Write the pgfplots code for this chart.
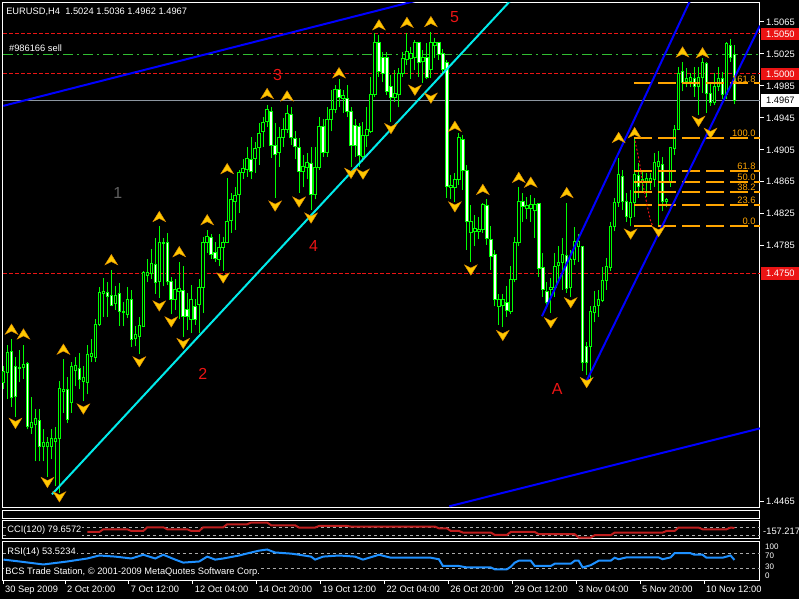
\documentclass[border=0pt]{standalone}
\usepackage{fontspec}
\setmainfont{Liberation Sans}
\usepackage{pgfplots}
\usepackage{pgfplotstable}
\pgfplotsset{compat=1.18}
\definecolor{mtlime}{RGB}{0,255,0}
\definecolor{frac}{RGB}{255,200,0}
\definecolor{fracd}{RGB}{225,140,0}
\definecolor{mtblue}{RGB}{0,0,255}
\definecolor{mtcyan}{RGB}{0,235,235}
\definecolor{mtred}{RGB}{235,20,20}
\definecolor{tradegreen}{RGB}{50,190,50}
\definecolor{bidgray}{RGB}{140,150,160}
\definecolor{fibc}{RGB}{255,165,0}
\definecolor{ccic}{RGB}{190,30,30}
\definecolor{rsic}{RGB}{30,144,255}
\definecolor{lvl}{RGB}{170,170,170}
\newcommand\sm{\fontsize{7}{8.4}\selectfont}
\newcommand\xs{\fontsize{6}{7}\selectfont}
\pgfdeclareplotmark{fup}{%
 \pgfpathmoveto{\pgfqpoint{0pt}{4.2pt}}%
 \pgfpathlineto{\pgfqpoint{-4.8pt}{-3.6pt}}%
 \pgfpathlineto{\pgfqpoint{0pt}{-1.2pt}}%
 \pgfpathlineto{\pgfqpoint{4.8pt}{-3.6pt}}%
 \pgfpathclose\pgfusepathqfillstroke}
\pgfdeclareplotmark{fdn}{%
 \pgfpathmoveto{\pgfqpoint{0pt}{-4.2pt}}%
 \pgfpathlineto{\pgfqpoint{-4.8pt}{3.6pt}}%
 \pgfpathlineto{\pgfqpoint{0pt}{1.2pt}}%
 \pgfpathlineto{\pgfqpoint{4.8pt}{3.6pt}}%
 \pgfpathclose\pgfusepathqfillstroke}
\pgfplotsset{mt/.style={scale only axis, width=568.5pt, anchor=south west,
  axis background/.style={fill=black}, axis line style={white,line width=0.75pt},
  xmin=-0.125, xmax=189.375, clip mode=individual},
  fibline/.style={fibc,line width=1.5pt,dash pattern=on 13.5pt off 4.5pt}}
\pgfplotstableread{
i o h l c
0 1.4614 1.4634 1.4605 1.4628
1 1.4626 1.4661 1.4593 1.4651
2 1.4653 1.4668 1.4583 1.4595
3 1.4634 1.4646 1.4571 1.4596
4 1.4631 1.4655 1.4614 1.4633
5 1.4633 1.4661 1.4618 1.4636
6 1.4638 1.4639 1.4555 1.4559
7 1.4558 1.4596 1.4549 1.4564
8 1.4561 1.4580 1.4515 1.4569
9 1.4566 1.4581 1.4515 1.4533
10 1.4533 1.4555 1.4515 1.4539
11 1.4534 1.4545 1.4496 1.4538
12 1.4534 1.4555 1.4518 1.4543
13 1.4540 1.4558 1.4484 1.4543
14 1.4544 1.4615 1.4476 1.4606
15 1.4603 1.4643 1.4576 1.4605
16 1.4605 1.4621 1.4563 1.4568
17 1.4589 1.4639 1.4576 1.4634
18 1.4629 1.4646 1.4609 1.4635
19 1.4631 1.4651 1.4605 1.4618
20 1.4615 1.4634 1.4590 1.4620
21 1.4614 1.4661 1.4599 1.4649
22 1.4646 1.4668 1.4639 1.4650
23 1.4645 1.4693 1.4640 1.4686
24 1.4686 1.4733 1.4684 1.4726
25 1.4725 1.4745 1.4696 1.4728
26 1.4726 1.4739 1.4696 1.4721
27 1.4723 1.4755 1.4709 1.4710
28 1.4713 1.4734 1.4705 1.4723
29 1.4725 1.4738 1.4685 1.4703
30 1.4701 1.4714 1.4684 1.4703
31 1.4699 1.4733 1.4695 1.4718
32 1.4718 1.4729 1.4658 1.4668
33 1.4669 1.4684 1.4659 1.4674
34 1.4671 1.4696 1.4649 1.4685
35 1.4684 1.4753 1.4683 1.4751
36 1.4748 1.4768 1.4739 1.4751
37 1.4750 1.4781 1.4743 1.4763
38 1.4761 1.4794 1.4725 1.4739
39 1.4740 1.4809 1.4720 1.4789
40 1.4788 1.4795 1.4734 1.4789
41 1.4789 1.4801 1.4736 1.4740
42 1.4740 1.4746 1.4699 1.4718
43 1.4718 1.4743 1.4705 1.4730
44 1.4728 1.4765 1.4693 1.4731
45 1.4729 1.4759 1.4671 1.4696
46 1.4705 1.4726 1.4680 1.4696
47 1.4693 1.4736 1.4676 1.4718
48 1.4709 1.4718 1.4686 1.4693
49 1.4711 1.4743 1.4676 1.4733
50 1.4733 1.4796 1.4701 1.4789
51 1.4789 1.4805 1.4776 1.4796
52 1.4795 1.4799 1.4768 1.4774
53 1.4776 1.4789 1.4765 1.4769
54 1.4768 1.4799 1.4759 1.4783
55 1.4783 1.4796 1.4753 1.4789
56 1.4789 1.4870 1.4788 1.4815
57 1.4816 1.4851 1.4801 1.4843
58 1.4840 1.4859 1.4805 1.4848
59 1.4849 1.4880 1.4826 1.4876
60 1.4876 1.4893 1.4868 1.4881
61 1.4880 1.4909 1.4871 1.4894
62 1.4893 1.4921 1.4868 1.4878
63 1.4894 1.4915 1.4876 1.4906
64 1.4908 1.4939 1.4886 1.4926
65 1.4928 1.4946 1.4909 1.4939
66 1.4940 1.4961 1.4934 1.4955
67 1.4953 1.4958 1.4895 1.4911
68 1.4911 1.4939 1.4845 1.4899
69 1.4901 1.4934 1.4884 1.4921
70 1.4921 1.4945 1.4909 1.4931
71 1.4930 1.4961 1.4926 1.4950
72 1.4949 1.4958 1.4911 1.4920
73 1.4919 1.4928 1.4893 1.4909
74 1.4908 1.4920 1.4851 1.4878
75 1.4878 1.4899 1.4858 1.4884
76 1.4883 1.4901 1.4868 1.4889
77 1.4888 1.4909 1.4830 1.4849
78 1.4849 1.4909 1.4843 1.4883
79 1.4883 1.4946 1.4880 1.4934
80 1.4934 1.4943 1.4896 1.4901
81 1.4901 1.4959 1.4896 1.4943
82 1.4943 1.4980 1.4928 1.4956
83 1.4956 1.4986 1.4951 1.4981
84 1.4980 1.4993 1.4959 1.4971
85 1.4969 1.4980 1.4951 1.4973
86 1.4969 1.4986 1.4946 1.4953
87 1.4953 1.4959 1.4884 1.4911
88 1.4935 1.4943 1.4896 1.4911
89 1.4934 1.4939 1.4884 1.4898
90 1.4896 1.4940 1.4890 1.4923
91 1.4923 1.4959 1.4909 1.4930
92 1.4928 1.4996 1.4926 1.4974
93 1.4974 1.5051 1.4971 1.5039
94 1.5039 1.5049 1.4996 1.5003
95 1.5021 1.5028 1.4990 1.5001
96 1.5020 1.5028 1.4974 1.4978
97 1.4984 1.4999 1.4940 1.4971
98 1.4971 1.5005 1.4965 1.4975
99 1.4974 1.5008 1.4958 1.5001
100 1.5001 1.5028 1.4996 1.5019
101 1.5018 1.5051 1.5011 1.5028
102 1.5019 1.5034 1.4993 1.5025
103 1.5020 1.5043 1.5005 1.5039
104 1.5039 1.5040 1.4996 1.5014
105 1.5015 1.5030 1.4989 1.5021
106 1.5020 1.5039 1.4993 1.4996
107 1.5006 1.5053 1.4995 1.5039
108 1.5036 1.5045 1.5020 1.5039
109 1.5039 1.5040 1.5018 1.5024
110 1.5026 1.5031 1.4999 1.5005
111 1.5014 1.5018 1.4845 1.4859
112 1.4858 1.4874 1.4843 1.4860
113 1.4858 1.4876 1.4840 1.4868
114 1.4868 1.4926 1.4861 1.4921
115 1.4918 1.4924 1.4855 1.4879
116 1.4879 1.4886 1.4780 1.4815
117 1.4801 1.4836 1.4764 1.4815
118 1.4803 1.4824 1.4784 1.4806
119 1.4803 1.4821 1.4793 1.4805
120 1.4805 1.4839 1.4801 1.4836
121 1.4835 1.4843 1.4786 1.4794
122 1.4793 1.4810 1.4755 1.4771
123 1.4774 1.4780 1.4709 1.4718
124 1.4709 1.4725 1.4686 1.4718
125 1.4710 1.4724 1.4683 1.4718
126 1.4714 1.4734 1.4696 1.4704
127 1.4703 1.4759 1.4699 1.4743
128 1.4743 1.4796 1.4739 1.4789
129 1.4789 1.4859 1.4784 1.4840
130 1.4840 1.4851 1.4815 1.4834
131 1.4831 1.4846 1.4818 1.4835
132 1.4831 1.4849 1.4815 1.4836
133 1.4829 1.4845 1.4795 1.4836
134 1.4838 1.4839 1.4746 1.4756
135 1.4758 1.4776 1.4721 1.4730
136 1.4728 1.4739 1.4709 1.4714
137 1.4730 1.4745 1.4701 1.4733
138 1.4733 1.4776 1.4721 1.4759
139 1.4760 1.4784 1.4740 1.4764
140 1.4764 1.4795 1.4730 1.4774
141 1.4773 1.4839 1.4726 1.4731
142 1.4733 1.4780 1.4721 1.4768
143 1.4768 1.4808 1.4761 1.4790
144 1.4784 1.4799 1.4765 1.4790
145 1.4784 1.4785 1.4628 1.4639
146 1.4659 1.4665 1.4623 1.4639
147 1.4659 1.4709 1.4618 1.4703
148 1.4701 1.4728 1.4689 1.4709
149 1.4710 1.4730 1.4696 1.4718
150 1.4716 1.4758 1.4714 1.4741
151 1.4741 1.4770 1.4730 1.4759
152 1.4758 1.4815 1.4753 1.4809
153 1.4809 1.4845 1.4803 1.4839
154 1.4839 1.4895 1.4834 1.4874
155 1.4871 1.4880 1.4830 1.4840
156 1.4840 1.4851 1.4815 1.4821
157 1.4820 1.4855 1.4809 1.4839
158 1.4839 1.4920 1.4821 1.4874
159 1.4873 1.4889 1.4845 1.4859
160 1.4864 1.4880 1.4851 1.4868
161 1.4865 1.4876 1.4846 1.4869
162 1.4865 1.4876 1.4855 1.4869
163 1.4868 1.4901 1.4859 1.4889
164 1.4884 1.4903 1.4811 1.4890
165 1.4886 1.4896 1.4828 1.4840
166 1.4840 1.4845 1.4833 1.4843
167 1.4864 1.4909 1.4859 1.4908
168 1.4906 1.4936 1.4899 1.4931
169 1.4931 1.5009 1.4930 1.5001
170 1.5003 1.5015 1.4978 1.4989
171 1.4990 1.5008 1.4983 1.4994
172 1.4991 1.5001 1.4983 1.4995
173 1.4994 1.5009 1.4971 1.4984
174 1.4984 1.5009 1.4949 1.4996
175 1.4996 1.5020 1.4976 1.5014
176 1.5013 1.5015 1.4951 1.4975
177 1.4976 1.4989 1.4960 1.4964
178 1.4964 1.5001 1.4961 1.4984
179 1.4984 1.5009 1.4978 1.4994
180 1.4994 1.5003 1.4968 1.4974
181 1.4974 1.5040 1.4968 1.5038
182 1.5036 1.5044 1.5015 1.5021
183 1.5024 1.5036 1.4962 1.4967
}\ohlc
\begin{document}
\begin{tikzpicture}
\begin{scope}[x=0.75pt,y=-0.75pt]
\useasboundingbox (0,0) rectangle (800,600);
\fill[black] (0,0) rectangle (800,600);
\end{scope}
\pgfplotstablegetrowsof{\ohlc}
\pgfmathtruncatemacro{\nlast}{\pgfplotsretval-1}
% ---------- main price panel ----------
\begin{axis}[mt, at={(2.25pt,-381pt)}, height=378.75pt,
  ymin=1.44575, ymax=1.508875,
  xtick=\empty,
  ytick={1.4465,1.4785,1.4825,1.4865,1.4905,1.4945,1.4985,1.5025,1.5065},
  yticklabels={1.4465,1.4785,1.4825,1.4865,1.4905,1.4945,1.4985,1.5025,1.5065},
  ytick pos=right, yticklabel pos=right, tick align=outside, major tick length=3pt,
  ytick style={white,line width=0.75pt},
  yticklabel style={white,font=\sm,inner sep=1.5pt}]
% price levels
\addplot[mtred,line width=0.75pt,dash pattern=on 3pt off 1.5pt] coordinates {(-0.125,1.5050) (189.375,1.5050)};
\addplot[mtred,line width=0.75pt,dash pattern=on 3pt off 1.5pt] coordinates {(-0.125,1.5000) (189.375,1.5000)};
\addplot[mtred,line width=0.75pt,dash pattern=on 3pt off 1.5pt] coordinates {(-0.125,1.4750) (189.375,1.4750)};
\addplot[tradegreen,line width=0.75pt,dash pattern=on 7.5pt off 3pt on 1.5pt off 3pt] coordinates {(-0.125,1.5024) (189.375,1.5024)};
\addplot[bidgray,line width=0.75pt] coordinates {(-0.125,1.4967) (189.375,1.4967)};
% candles
\pgfplotsforeachungrouped \k in {0,...,\nlast}{%
  \pgfplotstablegetelem{\k}{o}\of\ohlc \let\cO=\pgfplotsretval
  \pgfplotstablegetelem{\k}{h}\of\ohlc \let\cH=\pgfplotsretval
  \pgfplotstablegetelem{\k}{l}\of\ohlc \let\cL=\pgfplotsretval
  \pgfplotstablegetelem{\k}{c}\of\ohlc \let\cC=\pgfplotsretval
  \pgfmathtruncatemacro{\bear}{\cC<\cO}%
  \ifnum\bear=1 \def\bfill{white}\else\def\bfill{black}\fi
  \edef\tmp{\noexpand\draw[mtlime,line width=0.75pt] (axis cs:\k,\cL) -- (axis cs:\k,\cH);
    \noexpand\draw[mtlime,line width=0.75pt,fill=\bfill] ([xshift=-0.95pt]axis cs:\k,\cO) rectangle ([xshift=0.95pt]axis cs:\k,\cC);}%
  \tmp
}
% fibonacci levels
\addplot[fibline] coordinates {(157.9,1.4810) (189.375,1.4810)};
\addplot[fibline] coordinates {(157.9,1.4836) (189.375,1.4836)};
\addplot[fibline] coordinates {(157.9,1.4852) (189.375,1.4852)};
\addplot[fibline] coordinates {(157.9,1.4865) (189.375,1.4865)};
\addplot[fibline] coordinates {(157.9,1.4878) (189.375,1.4878)};
\addplot[fibline] coordinates {(157.9,1.4920) (189.375,1.4920)};
\addplot[fibline] coordinates {(157.9,1.4988) (189.375,1.4988)};
% trend lines
\addplot[mtblue,line width=1.5pt] coordinates {(-0.05,1.49600) (104.125,1.50926)};
\addplot[mtblue,line width=1.5pt] coordinates {(111.6,1.445875) (189.375,1.45563)};
\addplot[mtblue,line width=1.5pt] coordinates {(134.8,1.46966) (171.95,1.50925)};
\addplot[mtblue,line width=1.5pt] coordinates {(145.8,1.46138) (189.375,1.50604)};
\addplot[mtcyan,line width=1.5pt] coordinates {(12.125,1.447375) (127.125,1.50928)};
\addplot[mtred,line width=0.75pt,dash pattern=on 1.5pt off 1.5pt] coordinates {(158.1,1.49162) (159.1,1.48925) (160.1,1.48613) (161.1,1.48363) (161.9,1.48175) (162.9,1.48050)};
\node[fibc,font=\sm,anchor=south east,inner sep=0.8pt] at (axis cs:188.6,1.4810) {0.0};
\node[fibc,font=\sm,anchor=south east,inner sep=0.8pt] at (axis cs:188.6,1.4836) {23.6};
\node[fibc,font=\sm,anchor=south east,inner sep=0.8pt] at (axis cs:188.6,1.4852) {38.2};
\node[fibc,font=\sm,anchor=south east,inner sep=0.8pt] at (axis cs:188.6,1.4865) {50.0};
\node[fibc,font=\sm,anchor=south east,inner sep=0.8pt] at (axis cs:188.6,1.4878) {61.8};
\node[fibc,font=\sm,anchor=south east,inner sep=0.8pt] at (axis cs:188.6,1.4920) {100.0};
\node[fibc,font=\sm,anchor=south east,inner sep=0.8pt] at (axis cs:188.6,1.4988) {161.8};
% fractals
\addplot[only marks,mark=fup,mark options={fill=frac,draw=fracd,line width=0.3pt}] table[row sep=\\] {
x y\\ 2 1.4680\\ 5 1.4674\\ 15 1.4655\\ 27 1.4767\\ 39 1.4821\\ 44 1.4777\\ 51 1.4817\\ 56 1.4881\\
66 1.4975\\ 71 1.4972\\ 84 1.5001\\ 94 1.5061\\ 101 1.5064\\ 107 1.5065\\ 113 1.4934\\ 120 1.4855\\
129 1.4870\\ 132 1.4864\\ 141 1.4851\\ 154 1.4920\\ 158 1.4926\\ 170 1.5027\\ 175 1.5026\\ };
\addplot[only marks,mark=fdn,mark options={fill=frac,draw=fracd,line width=0.3pt}] table[row sep=\\] {
x y\\ 3 1.4563\\ 11 1.4489\\ 14 1.4471\\ 20 1.4581\\ 34 1.4640\\ 39 1.4710\\ 42 1.4690\\ 45 1.4663\\
55 1.4745\\ 68 1.4835\\ 74 1.4840\\ 77 1.4820\\ 87 1.4876\\ 90 1.4875\\ 97 1.4932\\ 103 1.4980\\
107 1.4970\\ 113 1.4834\\ 117 1.4755\\ 125 1.4673\\ 137 1.4689\\ 142 1.4714\\ 146 1.4614\\
157 1.4800\\ 164 1.4803\\ 174 1.4941\\ 177 1.4926\\ };
% wave labels
\node[text=gray!75!black,font=\fontsize{12}{14}\selectfont] at (axis cs:28.6,1.4851) {1};
\node[text=mtred,font=\fontsize{12}{14}\selectfont] at (axis cs:49.9,1.4625) {2};
\node[text=mtred,font=\fontsize{12}{14}\selectfont] at (axis cs:68.6,1.4998) {3};
\node[text=mtred,font=\fontsize{12}{14}\selectfont] at (axis cs:77.6,1.4785) {4};
\node[text=mtred,font=\fontsize{12}{14}\selectfont] at (axis cs:112.9,1.5071) {5};
\node[text=mtred,font=\fontsize{12}{14}\selectfont] at (axis cs:138.6,1.4605) {A};
\node[white,font=\sm,anchor=south west,inner sep=1pt] at (axis cs:1,1.50255) {\#986166 sell};
% price boxes
\node[fill=mtred,text=white,font=\sm,minimum width=28.5pt,minimum height=9.5pt,inner sep=0pt,anchor=west,xshift=0.9pt] at (axis cs:189.375,1.5050) {1.5050};
\node[fill=mtred,text=white,font=\sm,minimum width=28.5pt,minimum height=9.5pt,inner sep=0pt,anchor=west,xshift=0.9pt] at (axis cs:189.375,1.5000) {1.5000};
\node[fill=mtred,text=white,font=\sm,minimum width=28.5pt,minimum height=9.5pt,inner sep=0pt,anchor=west,xshift=0.9pt] at (axis cs:189.375,1.4750) {1.4750};
\node[fill=white,text=black,font=\sm,minimum width=28.5pt,minimum height=9.5pt,inner sep=0pt,anchor=west,xshift=0.9pt] at (axis cs:189.375,1.4967) {1.4967};
\end{axis}
% ---------- CCI panel ----------
\begin{axis}[mt, at={(2.25pt,-404.25pt)}, height=13.5pt,
  ymin=-157.217, ymax=255.29, xtick=\empty, ytick=\empty]
\addplot[lvl,line width=0.75pt,dash pattern=on 2.25pt off 2.25pt] coordinates {(-0.125,100) (189.375,100)};
\addplot[lvl,line width=0.75pt,dash pattern=on 2.25pt off 2.25pt] coordinates {(-0.125,-100) (189.375,-100)};
\addplot[ccic,line width=1.5pt] table[row sep=\\] {
x y\\ 21 -13\\ 24 -13\\ 25 49\\ 31 49\\ 32 10\\ 35 10\\ 36 95\\ 40 95\\ 41 49\\ 46 49\\ 47 10\\ 49 10\\
50 95\\ 55 95\\ 56 164\\ 61 164\\ 62 203\\ 66 203\\ 67 141\\ 73 141\\ 74 88\\ 78 88\\ 79 125\\ 86 125\\
87 111\\ 108 111\\ 109 72\\ 111 72\\ 112 10\\ 114 10\\ 115 -26\\ 122 -26\\ 123 -81\\ 126 -81\\
127 -13\\ 133 -13\\ 134 -65\\ 143 -65\\ 144 -141\\ 147 -141\\ 148 -88\\ 152 -88\\ 153 -26\\ 165 -26\\
166 10\\ 168 10\\ 169 88\\ 174 88\\ 175 49\\ 181 49\\ 182 88\\ 183 80\\ };
\end{axis}
% ---------- RSI panel ----------
\begin{axis}[mt, at={(2.25pt,-435.75pt)}, height=29.25pt,
  ymin=0, ymax=104, ytick=\empty,
  xtick={-0.1,15.4,31.4,47.4,63.4,79.4,95.4,111.4,127.4,143.4,159.4,175.4},
  xticklabels={30 Sep 2009,2 Oct 20:00,7 Oct 12:00,12 Oct 04:00,14 Oct 20:00,19 Oct 12:00,22 Oct 04:00,26 Oct 20:00,29 Oct 12:00,3 Nov 04:00,5 Nov 20:00,10 Nov 12:00},
  xtick pos=left, tick align=outside, major tick length=3pt,
  xtick style={white,line width=0.75pt},
  xticklabel style={white,font=\sm,anchor=north west,inner sep=1pt,xshift=0.3pt}]
\addplot[lvl,line width=0.75pt,dash pattern=on 2.25pt off 2.25pt] coordinates {(-0.125,70) (189.375,70)};
\addplot[lvl,line width=0.75pt,dash pattern=on 2.25pt off 2.25pt] coordinates {(-0.125,30) (189.375,30)};
\addplot[rsic,line width=1.5pt] table[row sep=\\] {
x y\\ 0 55\\ 4 50\\ 10 42\\ 16 50\\ 21 58\\ 24 66\\ 28 63\\ 32 58\\ 35 68\\ 38 58\\ 40 68\\ 43 55\\
45 47\\ 49 50\\ 51 63\\ 53 55\\ 55 58\\ 59 66\\ 62 74\\ 64 79\\ 66 82\\ 68 74\\ 72 71\\ 74 68\\
77 63\\ 78 55\\ 80 63\\ 84 66\\ 88 63\\ 90 55\\ 94 68\\ 97 60\\ 107 60\\ 109 56\\ 110 38\\ 114 38\\
116 34\\ 122 34\\ 123 29\\ 126 29\\ 127 36\\ 128 47\\ 129 52\\ 132 52\\ 133 38\\ 137 38\\ 138 44\\
142 44\\ 143 52\\ 144 52\\ 145 34\\ 147 40\\ 149 52\\ 152 52\\ 153 60\\ 154 56\\ 156 61\\ 164 61\\
165 56\\ 167 61\\ 168 72\\ 172 72\\ 173 68\\ 175 68\\ 176 60\\ 180 60\\ 182 66\\ 183 54\\ };
\end{axis}
\begin{scope}[x=0.75pt,y=-0.75pt]
\draw[white,line width=0.75pt,fill=black] (3,511) rectangle (761,519);
\node[white,font=\sm,anchor=west,inner sep=0pt] at (6,12) {EURUSD,H4\ \ 1.5024 1.5036 1.4962 1.4967};
\node[white,font=\sm,anchor=west,fill=black,inner sep=0.8pt] at (6,531) {CCI(120) 79.6572};
\node[white,font=\sm,anchor=west,fill=black,inner sep=0.8pt] at (6,553) {RSI(14) 53.5234};
\node[white,font=\sm,anchor=west,fill=black,inner sep=0.8pt] at (4,573) {BCS Trade Station, © 2001-2009 MetaQuotes Software Corp.};
\node[white,font=\sm,anchor=west,inner sep=0pt] at (764,532) {-157.217};
\node[white,font=\xs,anchor=west,inner sep=0pt] at (766,548) {100};
\node[white,font=\xs,anchor=west,inner sep=0pt] at (766,556.5) {70};
\node[white,font=\xs,anchor=west,inner sep=0pt] at (766,568) {30};
\node[white,font=\xs,anchor=west,inner sep=0pt] at (766,576.5) {0};
\end{scope}
\end{tikzpicture}
\end{document}
